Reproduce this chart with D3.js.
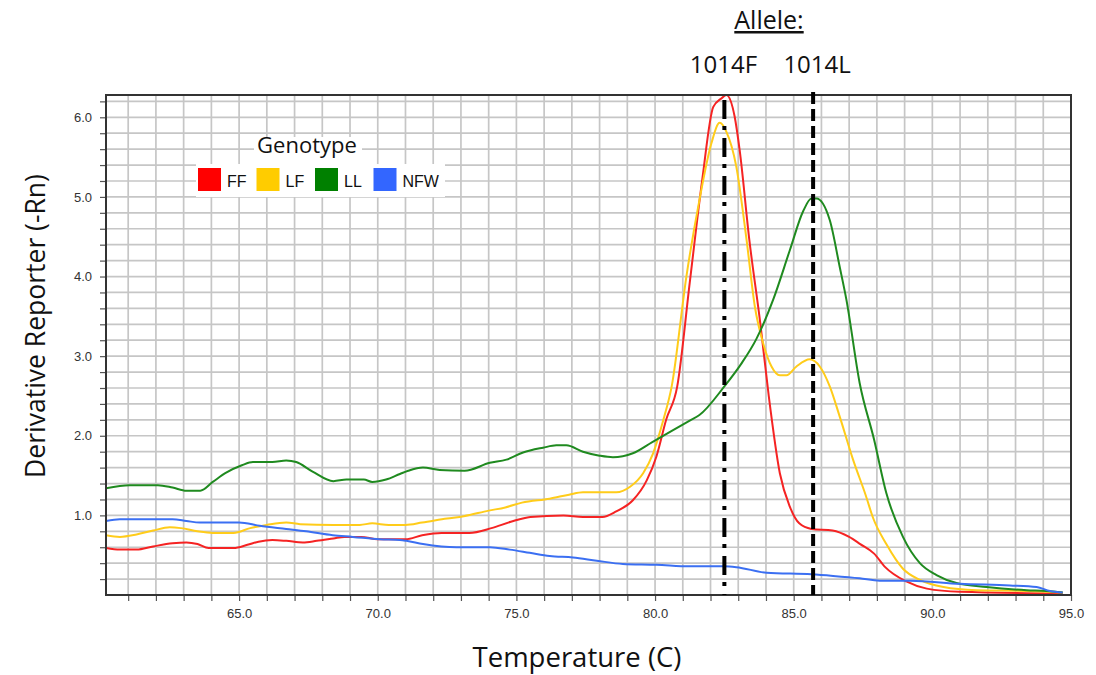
<!DOCTYPE html>
<html>
<head>
<meta charset="utf-8">
<script src="https://cdn.jsdelivr.net/npm/d3@7"></script>
<style>
  body { margin: 0; background: #fff; }
  svg { display: block; }
</style>
</head>
<body>
<div id="chart"></div>
<script>
// genotype names and curve data (temperature, derivative)
const genotypes = ["FF", "LF", "LL", "NFW"];

const ffPoints = [[60.2,0.59],[60.7,0.57],[61.3,0.57],[61.9,0.61],[62.6,0.65],[63.1,0.66],[63.5,0.64],[63.9,0.59],
  [64.8,0.59],[65.3,0.63],[65.7,0.67],[66.2,0.69],[66.7,0.68],[67.3,0.66],[67.8,0.68],[68.4,0.71],[68.8,0.73],
  [69.4,0.73],[70.0,0.70],[71.0,0.70],[71.6,0.75],[72.3,0.78],[73.3,0.78],[74.1,0.84],[74.8,0.92],[75.5,0.98],
  [76.7,1.00],[77.4,0.98],[78.1,0.98],[78.6,1.05],[79.2,1.19],[79.7,1.44],[80.05,1.74],[80.4,2.20],[80.8,2.62],
  [81.25,3.92],[81.7,5.21],[82.1,6.13],[82.4,6.24],[82.57,6.28],[82.87,6.01],[83.05,5.59],[83.4,4.46],[83.8,3.4],
  [84.1,2.5],[84.5,1.53],[84.86,1.11],[85.2,0.90],[85.64,0.83],[86.4,0.81],[87.0,0.73],[87.4,0.64],[87.9,0.52],
  [88.3,0.35],[89.06,0.17],[89.8,0.08],[91.0,0.04],[94.7,0.02]];

const lfPoints = [[60.2,0.75],[60.7,0.73],[61.3,0.76],[61.9,0.81],[62.5,0.85],[62.9,0.84],[63.5,0.80],[64.05,0.78],
  [64.8,0.78],[65.4,0.84],[66.0,0.88],[66.7,0.91],[67.2,0.89],[68.4,0.88],[69.35,0.88],[69.8,0.90],[70.4,0.88],
  [71.0,0.88],[71.6,0.91],[72.5,0.96],[73.1,0.99],[74.0,1.06],[74.6,1.10],[75.2,1.16],[76.2,1.21],[76.9,1.26],
  [77.4,1.29],[78.6,1.29],[79.1,1.36],[79.57,1.53],[79.93,1.78],[80.3,2.20],[80.6,2.62],[81.13,4.00],[81.6,4.96],
  [82.03,5.67],[82.33,5.93],[82.57,5.82],[82.93,5.38],[83.3,4.46],[83.6,3.62],[83.9,3.16],[84.2,2.87],[84.5,2.76],
  [84.74,2.76],[85.1,2.87],[85.58,2.96],[85.94,2.87],[86.3,2.62],[86.66,2.24],[87.14,1.70],[87.6,1.25],[87.86,0.97],
  [88.34,0.64],[88.94,0.33],[89.55,0.19],[90.4,0.10],[91.6,0.06],[93.4,0.05],[94.7,0.03]];

const llPoints = [[60.2,1.34],[61.05,1.38],[62.07,1.38],[62.6,1.35],[63.1,1.31],[63.6,1.31],[64.05,1.42],[64.5,1.53],
  [65.1,1.63],[65.5,1.67],[66.2,1.67],[66.7,1.69],[67.06,1.67],[67.65,1.55],[68.4,1.43],[68.87,1.45],[69.5,1.45],
  [69.8,1.42],[70.3,1.45],[70.8,1.52],[71.1,1.56],[71.63,1.60],[72.23,1.57],[73.13,1.56],[74.04,1.66],[74.64,1.70],
  [75.24,1.79],[75.96,1.85],[76.44,1.88],[76.8,1.88],[77.4,1.80],[78.0,1.75],[78.48,1.73],[79.2,1.78],[79.9,1.92],
  [80.65,2.07],[81.25,2.19],[81.6,2.26],[82.5,2.62],[83.1,2.90],[83.66,3.22],[84.26,3.71],[84.86,4.33],[85.34,4.82],
  [85.64,4.98],[85.82,4.98],[86.3,4.71],[86.66,4.12],[86.9,3.71],[87.38,2.66],[87.9,1.95],[88.34,1.28],[88.94,0.73],
  [89.55,0.40],[90.15,0.25],[90.87,0.15],[91.95,0.10],[93.4,0.06],[94.1,0.05],[94.7,0.03]];

const nfwPoints = [[60.2,0.93],[60.7,0.95],[62.6,0.95],[63.1,0.93],[63.58,0.91],[65.0,0.91],[65.74,0.87],[66.7,0.83],
  [67.42,0.80],[68.38,0.75],[69.1,0.73],[70.07,0.70],[70.8,0.69],[71.03,0.68],[71.63,0.64],[72.84,0.60],[74.04,0.60],
  [74.76,0.57],[75.48,0.53],[76.2,0.49],[77.04,0.47],[77.9,0.43],[78.84,0.39],[80.05,0.38],[81.25,0.36],[82.5,0.36],
  [82.93,0.35],[84.02,0.28],[85.64,0.26],[86.42,0.24],[87.38,0.21],[88.1,0.18],[89.2,0.18],[91.0,0.14],[92.8,0.12],
  [93.76,0.10],[94.24,0.05],[94.7,0.03]];

// allele marker temperatures
const alleleNames = ["1014F", "1014L"];
const alleleTemps = [82.5, 85.7];

// tick labels
const xTickLabels = [65, 70, 75, 80, 85, 90, 95];
const yTickLabels = [1, 2, 3, 4, 5, 6];

const seriesColors = ["#f52323", "#ffcc1a", "#1f8a1f", "#3b6ff2"];
const swatchColors = ["#ff0000", "#ffcc00", "#008000", "#3366ff"];

const width = 1096, height = 675;
const margin = { top: 95, right: 25, bottom: 80, left: 106 };
const innerW = width - margin.left - margin.right;
const innerH = height - margin.top - margin.bottom;

const svg = d3.select("#chart").append("svg")
    .attr("width", width)
    .attr("height", height);

const g = svg.append("g")
    .attr("transform", "translate(" + margin.left + "," + margin.top + ")");

const x = d3.scaleLinear().domain([60.2, 95]).range([0, innerW]);
const y = d3.scaleLinear().domain([0, 6.28]).range([innerH, 0]);

// minor steps: every 1 degree, every 0.2 units
const xMinor = d3.range(61, 96);
const yMinor = d3.range(1, 32).map(i => i / 5);

// grid
g.append("g").selectAll("line")
    .data(xMinor)
    .join("line")
    .attr("x1", d => x(d)).attr("x2", d => x(d))
    .attr("y1", 0).attr("y2", innerH)
    .attr("stroke", "#c6c6c6")
    .attr("stroke-width", 1.7);

g.append("g").selectAll("line")
    .data(yMinor)
    .join("line")
    .attr("x1", 0).attr("x2", innerW)
    .attr("y1", d => y(d)).attr("y2", d => y(d))
    .attr("stroke", "#c6c6c6")
    .attr("stroke-width", 1.7);

// axes
const fmt = d3.format(".1f");
const xAxis = d3.axisBottom(x)
    .tickValues(xMinor)
    .tickSize(6)
    .tickPadding(8)
    .tickFormat(d => xTickLabels.includes(d) ? fmt(d) : "");

const yAxis = d3.axisLeft(y)
    .tickValues(yMinor)
    .tickSize(6)
    .tickPadding(8)
    .tickFormat(d => yTickLabels.includes(d) ? fmt(d) : "");

function styleAxis(a) {
    a.select(".domain").remove();
    a.selectAll(".tick line").attr("stroke", "#555").attr("stroke-width", 1.2);
    a.selectAll(".tick text")
        .attr("font-family", "'Liberation Sans', Arial, sans-serif")
        .attr("font-size", 13)
        .attr("fill", "#333");
}

g.append("g")
    .attr("transform", "translate(0," + innerH + ")")
    .call(xAxis)
    .call(styleAxis);

g.append("g")
    .call(yAxis)
    .call(styleAxis);

// legend (white box behind)
const legend = g.append("g").attr("transform", "translate(" + (196 - margin.left) + "," + (133 - margin.top) + ")");
legend.append("rect")
    .attr("x", 58).attr("y", 4).attr("width", 108).attr("height", 28)
    .attr("fill", "#fff");
legend.append("rect")
    .attr("x", 0).attr("y", 31).attr("width", 249).attr("height", 33)
    .attr("fill", "#fff");
legend.append("text")
    .attr("x", 111).attr("y", 20)
    .attr("text-anchor", "middle")
    .style("font-family", "'Open Sans', sans-serif")
    .style("font-size", "22px")
    .attr("fill", "#111")
    .text("Genotype");

const item = legend.selectAll(".item")
    .data(genotypes)
    .join("g")
    .attr("class", "item")
    .attr("transform", (d, i) => "translate(" + (2 + i * 58.5) + ",35)");
item.append("rect")
    .attr("width", 23).attr("height", 23)
    .attr("fill", (d, i) => swatchColors[i]);
item.append("text")
    .attr("x", 29).attr("y", 19)
    .style("font-family", "'Liberation Sans', Arial, sans-serif")
    .style("font-size", "16px")
    .attr("fill", "#111")
    .text(d => d);

// curves
g.append("clipPath").attr("id", "plotClip")
    .append("rect").attr("width", innerW).attr("height", innerH);

const line = d3.line()
    .x(d => x(d[0]))
    .y(d => y(d[1]))
    .curve(d3.curveMonotoneX);

const series = [ffPoints, lfPoints, llPoints, nfwPoints];
g.append("g")
    .attr("clip-path", "url(#plotClip)")
    .selectAll("path")
    .data(series)
    .join("path")
    .attr("d", line)
    .attr("fill", "none")
    .attr("stroke", (d, i) => seriesColors[i])
    .attr("stroke-width", 2);

// frame
g.append("rect")
    .attr("width", innerW).attr("height", innerH)
    .attr("fill", "none")
    .attr("stroke", "#333")
    .attr("stroke-width", 2);

// allele marker lines
g.selectAll(".allele")
    .data(alleleTemps)
    .join("line")
    .attr("class", "allele")
    .attr("x1", d => x(d)).attr("x2", d => x(d))
    .attr("y1", -3).attr("y2", innerH)
    .attr("stroke", "#000")
    .attr("stroke-width", 4)
    .attr("stroke-dasharray", (d, i) => i === 0 ? "19,7,4,8" : "12,5")
    .attr("stroke-dashoffset", (d, i) => i === 0 ? 30 : 0);

svg.selectAll(".alleleName")
    .data(alleleNames)
    .join("text")
    .attr("class", "alleleName")
    .attr("x", (d, i) => margin.left + x(alleleTemps[i]) + (i === 0 ? -1 : 4))
    .attr("y", 73)
    .attr("text-anchor", "middle")
    .style("font-family", "'Open Sans', sans-serif")
    .style("font-size", "24px")
    .attr("fill", "#111")
    .text(d => d);

svg.append("text")
    .attr("x", 769).attr("y", 29)
    .attr("text-anchor", "middle")
    .style("font-family", "'Open Sans', sans-serif")
    .style("font-size", "25px")
    .style("text-decoration", "underline")
    .attr("fill", "#111")
    .text("Allele:");

// axis titles
svg.append("text")
    .attr("x", 577).attr("y", 667)
    .attr("text-anchor", "middle")
    .style("font-family", "'Open Sans', sans-serif")
    .style("font-size", "27.5px")
    .attr("fill", "#111")
    .text("Temperature (C)");

svg.append("text")
    .attr("transform", "translate(45,326) rotate(-90)")
    .attr("text-anchor", "middle")
    .style("font-family", "'Open Sans', sans-serif")
    .style("font-size", "26.5px")
    .attr("fill", "#111")
    .text("Derivative Reporter (-Rn)");
</script>
</body>
</html>
